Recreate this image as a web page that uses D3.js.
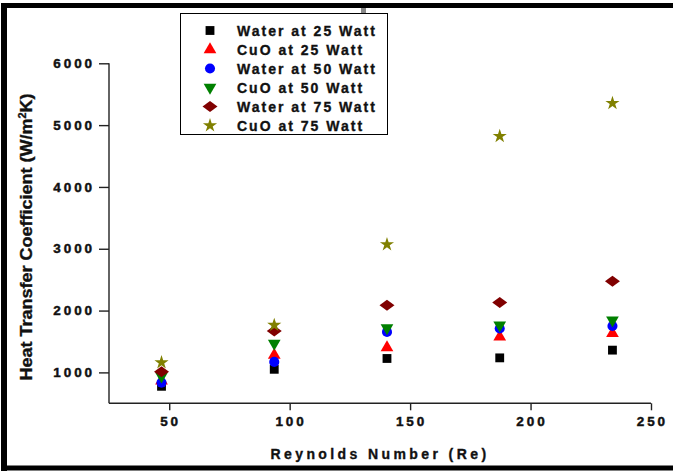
<!DOCTYPE html>
<html>
<head>
<meta charset="utf-8">
<script src="https://cdn.jsdelivr.net/npm/d3@7"></script>
<style>
    body { margin: 0; background: #fff; overflow: hidden; }
    svg { display: block; }
    .tickText { font-family: "Liberation Sans", Arial, sans-serif; font-weight: bold; font-size: 13.5px; letter-spacing: 2.9px; fill: #111; stroke: #111; stroke-width: 0.45px; }
    .legendText { font-family: "Liberation Sans", Arial, sans-serif; font-weight: bold; font-size: 14px; letter-spacing: 2px; fill: #111; stroke: #111; stroke-width: 0.35px; }
    .axisTitle { font-family: "Liberation Sans", Arial, sans-serif; font-weight: bold; fill: #111; stroke: #111; stroke-width: 0.35px; }
</style>
</head>
<body>
<div id="chart"></div>
<script>
// Reynolds number of each run
var reynolds = [46.8, 93.6, 140.4, 187.2, 234];

// heat transfer coefficient (W/m2K)
var water25 = [775, 1050, 1225, 1235, 1360];
var cuo25 = [865, 1280, 1400, 1575, 1630];
var water50 = [835, 1170, 1655, 1710, 1750];
var cuo50 = [940, 1470, 1720, 1765, 1845];
var water75 = [1010, 1670, 2085, 2130, 2475];
var cuo75 = [1160, 1765, 3070, 4820, 5355];

var seriesNames = ["Water at 25 Watt", "CuO at 25 Watt", "Water at 50 Watt", "CuO at 50 Watt", "Water at 75 Watt", "CuO at 75 Watt"];
var xTicks = [50, 100, 150, 200, 250];
var yTicks = [1000, 2000, 3000, 4000, 5000, 6000];

/**
 * Constructor for the scatter chart
 */
function HeatChart(){
    var self = this;
    self.init();
};

/**
 * Creates the svg and the scales
 */
HeatChart.prototype.init = function(){
    var self = this;
    self.svgWidth = 673;
    self.svgHeight = 472;
    self.svg = d3.select("#chart").append("svg")
        .attr("width", self.svgWidth)
        .attr("height", self.svgHeight);

    self.xScale = d3.scaleLinear().domain([25, 250]).range([109, 651]);
    self.yScale = d3.scaleLinear().domain([500, 6000]).range([403.3, 63.3]);
};

/**
 * Returns the path generator for a series marker
 */
HeatChart.prototype.marker = function(i){
    var diamond = {
        draw: function(ctx, size){
            ctx.moveTo(-7.5, 0); ctx.lineTo(0, -5.5); ctx.lineTo(7.5, 0); ctx.lineTo(0, 5.5); ctx.closePath();
        }
    };
    var shapes = [
        d3.symbol().type(d3.symbolSquare).size(78),
        d3.symbol().type(d3.symbolTriangle).size(70),
        d3.symbol().type(d3.symbolCircle).size(80),
        d3.symbol().type(d3.symbolTriangle).size(70),
        d3.symbol().type(diamond),
        d3.symbol().type(d3.symbolStar).size(62)
    ];
    return shapes[i];
};

HeatChart.prototype.update = function(){
    var self = this;
    var colors = ["#000000", "#ff0000", "#0000ff", "#008000", "#800000", "#808000"];
    var allSeries = [water25, cuo25, water50, cuo50, water75, cuo75];

    // outer frame (right side falls outside the picture)
    self.svg.append("line").attr("x1", 4).attr("x2", 4).attr("y1", 3).attr("y2", 471)
        .attr("stroke", "#000").attr("stroke-width", 6);
    self.svg.append("line").attr("x1", 1).attr("x2", 673).attr("y1", 5.5).attr("y2", 5.5)
        .attr("stroke", "#000").attr("stroke-width", 5);
    self.svg.append("line").attr("x1", 1).attr("x2", 673).attr("y1", 468).attr("y2", 468)
        .attr("stroke", "#000").attr("stroke-width", 5);
    self.svg.append("rect").attr("x", 361).attr("y", 8).attr("width", 5).attr("height", 5).attr("fill", "#888");

    // x axis with minor ticks
    var xMinor = d3.range(25, 250, 50);
    var xAxisG = self.svg.append("g").attr("transform", "translate(0," + self.yScale(500) + ")");
    xAxisG.call(d3.axisBottom(self.xScale).tickValues(xMinor).tickSize(4).tickFormat(""));
    xAxisG.call(d3.axisBottom(self.xScale).tickValues(xTicks).tickSize(7).tickFormat(""));
    xAxisG.selectAll("path, line").attr("stroke", "#222").attr("stroke-width", 1.4);
    xAxisG.selectAll("path").attr("d", "M" + self.xScale(25) + ",0H" + self.xScale(250));

    // y axis with minor ticks
    var yMinor = d3.range(500, 6000, 1000);
    var yAxisG = self.svg.append("g").attr("transform", "translate(" + self.xScale(25) + ",0)");
    yAxisG.call(d3.axisLeft(self.yScale).tickValues(yMinor).tickSize(5).tickFormat(""));
    yAxisG.call(d3.axisLeft(self.yScale).tickValues(yTicks).tickSize(10).tickFormat(""));
    yAxisG.selectAll("path, line").attr("stroke", "#222").attr("stroke-width", 1.4);
    yAxisG.selectAll("path").attr("d", "M0," + self.yScale(500) + "V" + self.yScale(6000));

    // tick labels
    self.svg.selectAll(".xLabel").data(xTicks).enter().append("text")
        .attr("class", "tickText")
        .attr("x", function(d){ return self.xScale(d) + 1.4; })
        .attr("y", 426)
        .style("text-anchor", "middle")
        .text(function(d){ return d; });
    self.svg.selectAll(".yLabel").data(yTicks).enter().append("text")
        .attr("class", "tickText")
        .attr("x", 95)
        .attr("y", function(d){ return self.yScale(d) + 4.7; })
        .style("text-anchor", "end")
        .text(function(d){ return d; });

    // axis titles
    self.svg.append("text").attr("class", "axisTitle")
        .attr("x", 380).attr("y", 459)
        .style("font-size", "14px").style("letter-spacing", "3.4px")
        .style("text-anchor", "middle")
        .text("Reynolds Number (Re)");
    var yTitle = self.svg.append("text").attr("class", "axisTitle")
        .attr("transform", "translate(32,237) rotate(-90)")
        .style("font-size", "16.5px")
        .style("text-anchor", "middle")
        .attr("textLength", 287).attr("lengthAdjust", "spacingAndGlyphs");
    yTitle.append("tspan").text("Heat Transfer Coefficient (W/m");
    yTitle.append("tspan").attr("dy", -6).style("font-size", "10px").text("2");
    yTitle.append("tspan").attr("dy", 6).text("K)");

    // markers
    allSeries.forEach(function(values, i){
        var rows = values.map(function(v, j){ return {x: reynolds[j], y: v}; });
        self.svg.append("g").selectAll("path").data(rows).enter().append("path")
            .attr("d", self.marker(i))
            .attr("fill", colors[i])
            .attr("transform", function(d){
                var t = "translate(" + self.xScale(d.x) + "," + self.yScale(d.y) + ")";
                return i == 3 ? t + " rotate(180)" : t;
            });
    });

    // legend
    var legend = self.svg.append("g");
    legend.append("rect").attr("x", 180.5).attr("y", 13.5).attr("width", 207).attr("height", 121)
        .attr("fill", "#fff").attr("stroke", "#000").attr("stroke-width", 1);
    seriesNames.forEach(function(name, i){
        var yRow = 30.5 + i * 19;
        legend.append("path")
            .attr("d", self.marker(i))
            .attr("fill", colors[i])
            .attr("transform", "translate(210," + yRow + ")" + (i == 3 ? " rotate(180)" : ""));
        legend.append("text").attr("class", "legendText")
            .attr("x", 237).attr("y", yRow + 5)
            .text(name);
    });
};

var chart = new HeatChart();
chart.update();
</script>
</body>
</html>
